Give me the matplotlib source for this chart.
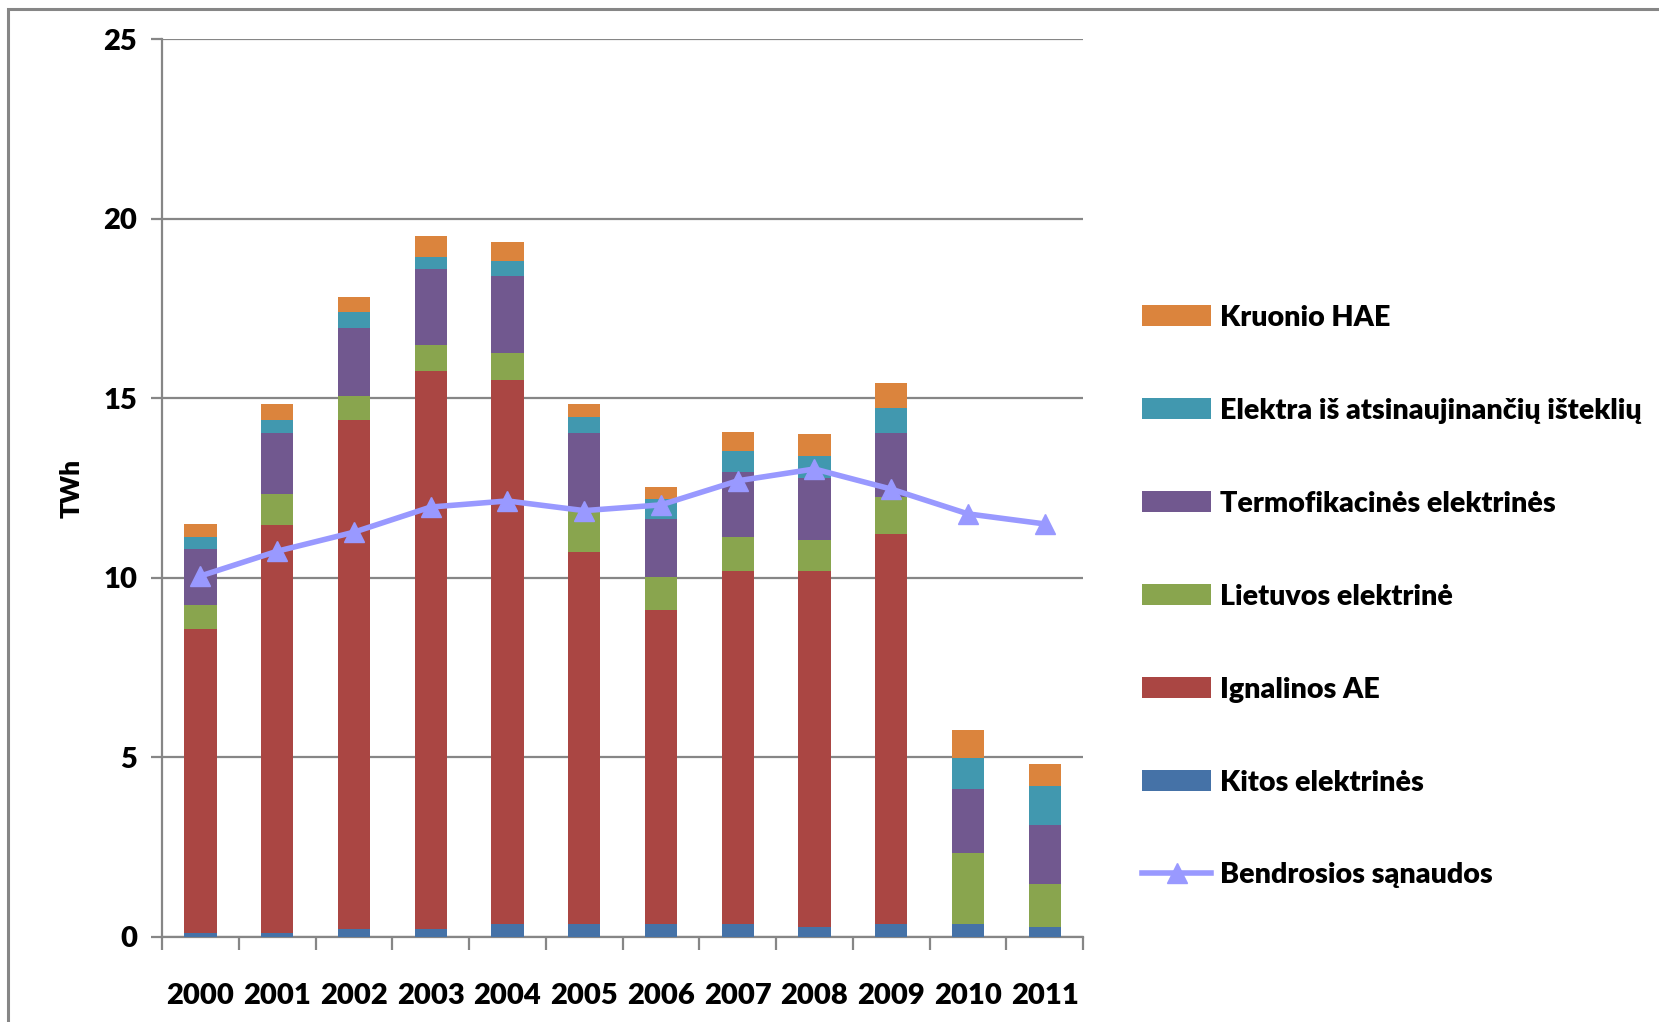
import numpy as np
import matplotlib.pyplot as plt
from matplotlib.patches import Rectangle

# years and stacked generation components (TWh)
years = ['2000', '2001', '2002', '2003', '2004', '2005',
         '2006', '2007', '2008', '2009', '2010', '2011']
kitos = [0.10, 0.10, 0.21, 0.21, 0.37, 0.37, 0.37, 0.37, 0.29, 0.37, 0.37, 0.29]
ignalina = [8.48, 11.37, 14.19, 15.55, 15.15, 10.36, 8.74, 9.82, 9.90, 10.86, 0.0, 0.0]
lietuvos = [0.67, 0.87, 0.67, 0.71, 0.75, 1.13, 0.92, 0.95, 0.87, 1.03, 1.98, 1.19]
termo = [1.56, 1.70, 1.89, 2.12, 2.14, 2.18, 1.62, 1.81, 1.71, 1.78, 1.78, 1.64]
atsinauj = [0.33, 0.36, 0.43, 0.33, 0.42, 0.44, 0.53, 0.59, 0.61, 0.70, 0.85, 1.09]
kruonio = [0.37, 0.44, 0.44, 0.61, 0.53, 0.36, 0.36, 0.53, 0.61, 0.69, 0.79, 0.61]
sanaudos = [10.05, 10.74, 11.27, 11.97, 12.14, 11.87, 12.03, 12.70, 13.03, 12.47, 11.78, 11.50]

series = [
    ('Kitos elektrinės', kitos, '#4572A7'),
    ('Ignalinos AE', ignalina, '#AA4643'),
    ('Lietuvos elektrinė', lietuvos, '#89A54E'),
    ('Termofikacinės elektrinės', termo, '#71588F'),
    ('Elektra iš atsinaujinančių išteklių', atsinauj, '#4198AF'),
    ('Kruonio HAE', kruonio, '#DB843D'),
]

plt.rcParams['font.family'] = ['Lato', 'DejaVu Sans']
plt.rcParams['font.weight'] = 'heavy'

grey = '#868686'

fig = plt.figure(figsize=(16.59, 10.22), dpi=100)
ax = fig.add_axes([0.0977, 0.0832, 0.5551, 0.8786])

x = np.arange(len(years))
bottom = np.zeros(len(years))
handles = []
for name, vals, col in series:
    b = ax.bar(x, vals, 0.42, bottom=bottom, color=col, label=name, zorder=3)
    handles.append(b)
    bottom = bottom + np.array(vals)

ln, = ax.plot(x, sanaudos, color='#9999FF', lw=4, marker='^', markersize=15,
              label='Bendrosios sąnaudos', zorder=4)

ax.set_xlim(-0.5, len(years) - 0.5)
ax.set_ylim(0, 25)
ax.set_yticks([0, 5, 10, 15, 20, 25])
ax.yaxis.grid(True, color=grey, lw=1.6, zorder=0)
ax.set_axisbelow(True)

ax.set_xticks(x)
ax.set_xticklabels(years)
ax.set_xticks(np.arange(-0.5, len(years)), minor=True)
ax.tick_params(axis='x', which='major', length=0, pad=33, labelsize=21)
ax.tick_params(axis='x', which='minor', length=9, width=1.6, color=grey)
ax.tick_params(axis='y', length=8, width=1.6, color=grey, pad=10, labelsize=21)

for s in ['top', 'right']:
    ax.spines[s].set_visible(False)
for s in ['left', 'bottom']:
    ax.spines[s].set_color(grey)
    ax.spines[s].set_linewidth(1.6)

ax.set_ylabel('TWh', fontsize=19, fontweight='heavy', labelpad=14)

# legend: top series first, line last
leg_handles = handles[::-1] + [ln]
fig.legend(leg_handles, [h.get_label() for h in leg_handles],
           loc='upper left', bbox_to_anchor=(0.673, 0.727), frameon=False,
           fontsize=20.6, handlelength=2.4, handleheight=0.75,
           labelspacing=2.34, handletextpad=0.3)

# outer chart frame
fig.add_artist(Rectangle((8 / 1659, -0.1), 1.2, 1.1 - 9 / 1022,
                         transform=fig.transFigure, fill=False,
                         edgecolor=grey, lw=2.2))

fig.savefig('out.png', dpi=100)
